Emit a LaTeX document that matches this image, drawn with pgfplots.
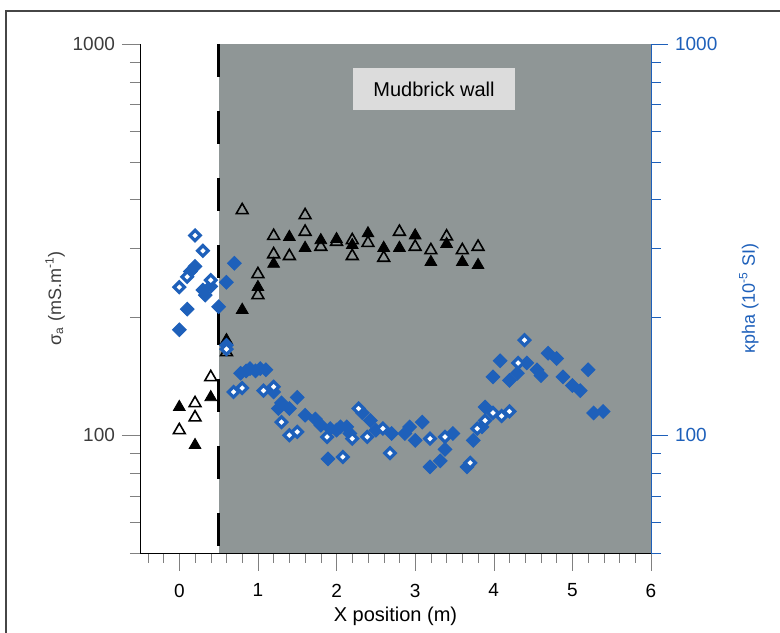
\documentclass[border=0pt]{standalone}
\usepackage{pgfplots}
\pgfplotsset{compat=1.18}
\usepackage{fontspec}
\setmainfont{Liberation Sans}
\definecolor{wallgray}{RGB}{143,150,150}
\definecolor{kblue}{RGB}{30,96,186}
\definecolor{boxgray}{RGB}{220,220,220}
\definecolor{framegray}{RGB}{70,70,70}
\definecolor{labgray}{RGB}{60,60,60}

\begin{document}
\begin{tikzpicture}
\begin{axis}[name=ax,
  scale only axis, width=255.5pt, height=254.5pt,
  xmin=-0.5, xmax=6, ymin=50, ymax=1000, ymode=log,
  tick align=outside,
  major tick length=9pt, minor tick length=5pt,
  tick label style={font=\fontsize{9.5}{11}\selectfont},
  log ticks with fixed point,
  ytick={100,1000},
  minor ytick={50,60,70,80,90,200,300,400,500,600,700,800,900},
  xtick={0,1,2,3,4,5,6},
  minor xtick={-0.4,-0.2,0.2,0.4,0.6,0.8,1.2,1.4,1.6,1.8,2.2,2.4,2.6,2.8,3.2,3.4,3.6,3.8,4.2,4.4,4.6,4.8,5.2,5.4,5.6,5.8},
  axis x line*=bottom, axis y line*=left, axis line style={-}, axis on top,
  xlabel={X position (m)},
  xlabel style={font=\fontsize{10}{12}\selectfont, at={(rel axis cs:0.5,0)}, yshift=-31.5pt, anchor=center},
  xticklabel style={yshift=-3pt},
  ylabel={σ\textsubscript{a} (mS.m\textsuperscript{-1})},
  ylabel style={font=\fontsize{9}{11}\selectfont, text=labgray},
  ylabel shift=-3pt,
  yticklabel style={text=labgray},
  /pgf/number format/assume math mode=true,
  /pgf/number format/1000 sep={},
]
\fill[wallgray] (axis cs:0.5,50) rectangle (axis cs:6,1000);
\draw[black, line width=1.5pt, dash pattern=on 16.5pt off 17pt] (axis cs:0.5,1000) -- (axis cs:0.5,50);
\node[fill=boxgray, minimum width=81pt, minimum height=21pt, inner sep=0pt, font=\fontsize{10}{12}\selectfont] at (axis cs:3.24,768) {Mudbrick wall};

% open triangles
\addplot[only marks, mark=triangle, mark size=3.4pt, mark options={draw=black, line width=0.8pt}] coordinates {
(0,103) (0.2,120.7) (0.2,111) (0.4,140.7) (0.6,163) (0.8,376) (1.0,258) (1.0,228)
(1.2,323) (1.2,290) (1.4,287) (1.6,365) (1.6,331) (1.8,303) (2.0,312) (2.2,315) (2.2,287)
(2.4,310) (2.6,284) (2.8,331) (3.0,303) (3.2,297) (3.4,322) (3.6,297) (3.8,303)
};
% filled triangles
\addplot[only marks, mark=triangle*, mark size=3.4pt, mark options={fill=black, draw=black, line width=0.4pt}] coordinates {
(0,118) (0.2,94.3) (0.4,125) (0.6,175) (0.8,209) (1.0,239) (1.2,274) (1.4,321) (1.6,301)
(1.8,315) (2.0,317) (2.2,306) (2.4,328) (2.6,301) (2.8,301) (3.0,324) (3.2,277) (3.4,308)
(3.6,277) (3.8,272)
};
\end{axis}

\begin{axis}[
  scale only axis, width=255.5pt, height=254.5pt,
  xmin=-0.5, xmax=6, ymin=50, ymax=1000, ymode=log,
  tick align=outside,
  major tick length=8.5pt, minor tick length=5pt,
  tick label style={font=\fontsize{9.5}{11}\selectfont},
  log ticks with fixed point,
  ytick={100,1000},
  minor ytick={50,60,70,80,90,200,300,400,500,600,700,800,900},
  axis y line*=right, axis x line=none, axis line style={-},
  y axis line style={kblue}, ytick style={kblue}, yticklabel style={text=kblue},
  ylabel={κpha (10\textsuperscript{-5} SI)},
  ylabel style={font=\fontsize{9}{11}\selectfont, text=kblue},
  ylabel shift=4pt,
  /pgf/number format/assume math mode=true,
  /pgf/number format/1000 sep={},
]
% filled diamonds
\addplot[only marks, mark=square*, mark size=2.4pt, mark options={rotate=45, fill=kblue, draw=kblue, line width=0.5pt}] coordinates {
(0,186) (0.1,210) (0.14,262) (0.2,270) (0.3,235) (0.33,228) (0.4,240) (0.5,213) (0.6,246) (0.7,275) (0.6,170)
(0.78,144) (0.85,146) (0.9,148) (0.97,146) (1.03,148) (1.1,147) (1.2,129) (1.26,117) (1.3,121)
(1.4,117) (1.5,125) (1.6,112.5) (1.73,110) (1.8,106) (1.89,87) (1.92,104) (2.0,103) (2.05,105)
(2.13,105) (2.17,101) (2.33,114) (2.43,109) (2.5,103) (2.7,101) (2.87,101) (2.93,105) (3.0,97)
(3.09,108) (3.19,83) (3.32,86) (3.38,92) (3.48,101) (3.66,83) (3.74,97) (3.85,105) (3.89,118)
(3.99,141) (4.08,155) (4.2,138) (4.3,144) (4.42,153) (4.55,147) (4.6,142) (4.69,162) (4.8,157)
(4.88,141) (5.0,134) (5.1,130) (5.2,147) (5.27,114) (5.39,115)
};
% open diamonds
\addplot[only marks, mark=square*, mark size=1.85pt, mark options={rotate=45, fill=white, draw=kblue, line width=1.6pt}] coordinates {
(0,239) (0.1,254) (0.2,324) (0.3,296) (0.4,249) (0.6,166)
(0.69,129) (0.8,132) (1.07,130) (1.2,133) (1.3,108) (1.4,100) (1.5,102) (1.88,99) (2.08,88)
(2.2,98) (2.28,117) (2.39,99) (2.59,104) (2.68,90) (3.19,98) (3.38,99) (3.7,85) (3.79,104)
(3.89,109) (3.99,114) (4.1,112) (4.2,115) (4.31,153) (4.39,175)
};
\end{axis}

\draw[framegray, line width=0.6pt] ([shift={(-67pt,-40pt)}]ax.south west) |- ([shift={(64.5pt,16.5pt)}]ax.north east);
\pgfresetboundingbox
\path ([shift={(-70pt,-40pt)}]ax.south west) rectangle ([shift={(64.5pt,22pt)}]ax.north east);
\end{tikzpicture}
\end{document}
